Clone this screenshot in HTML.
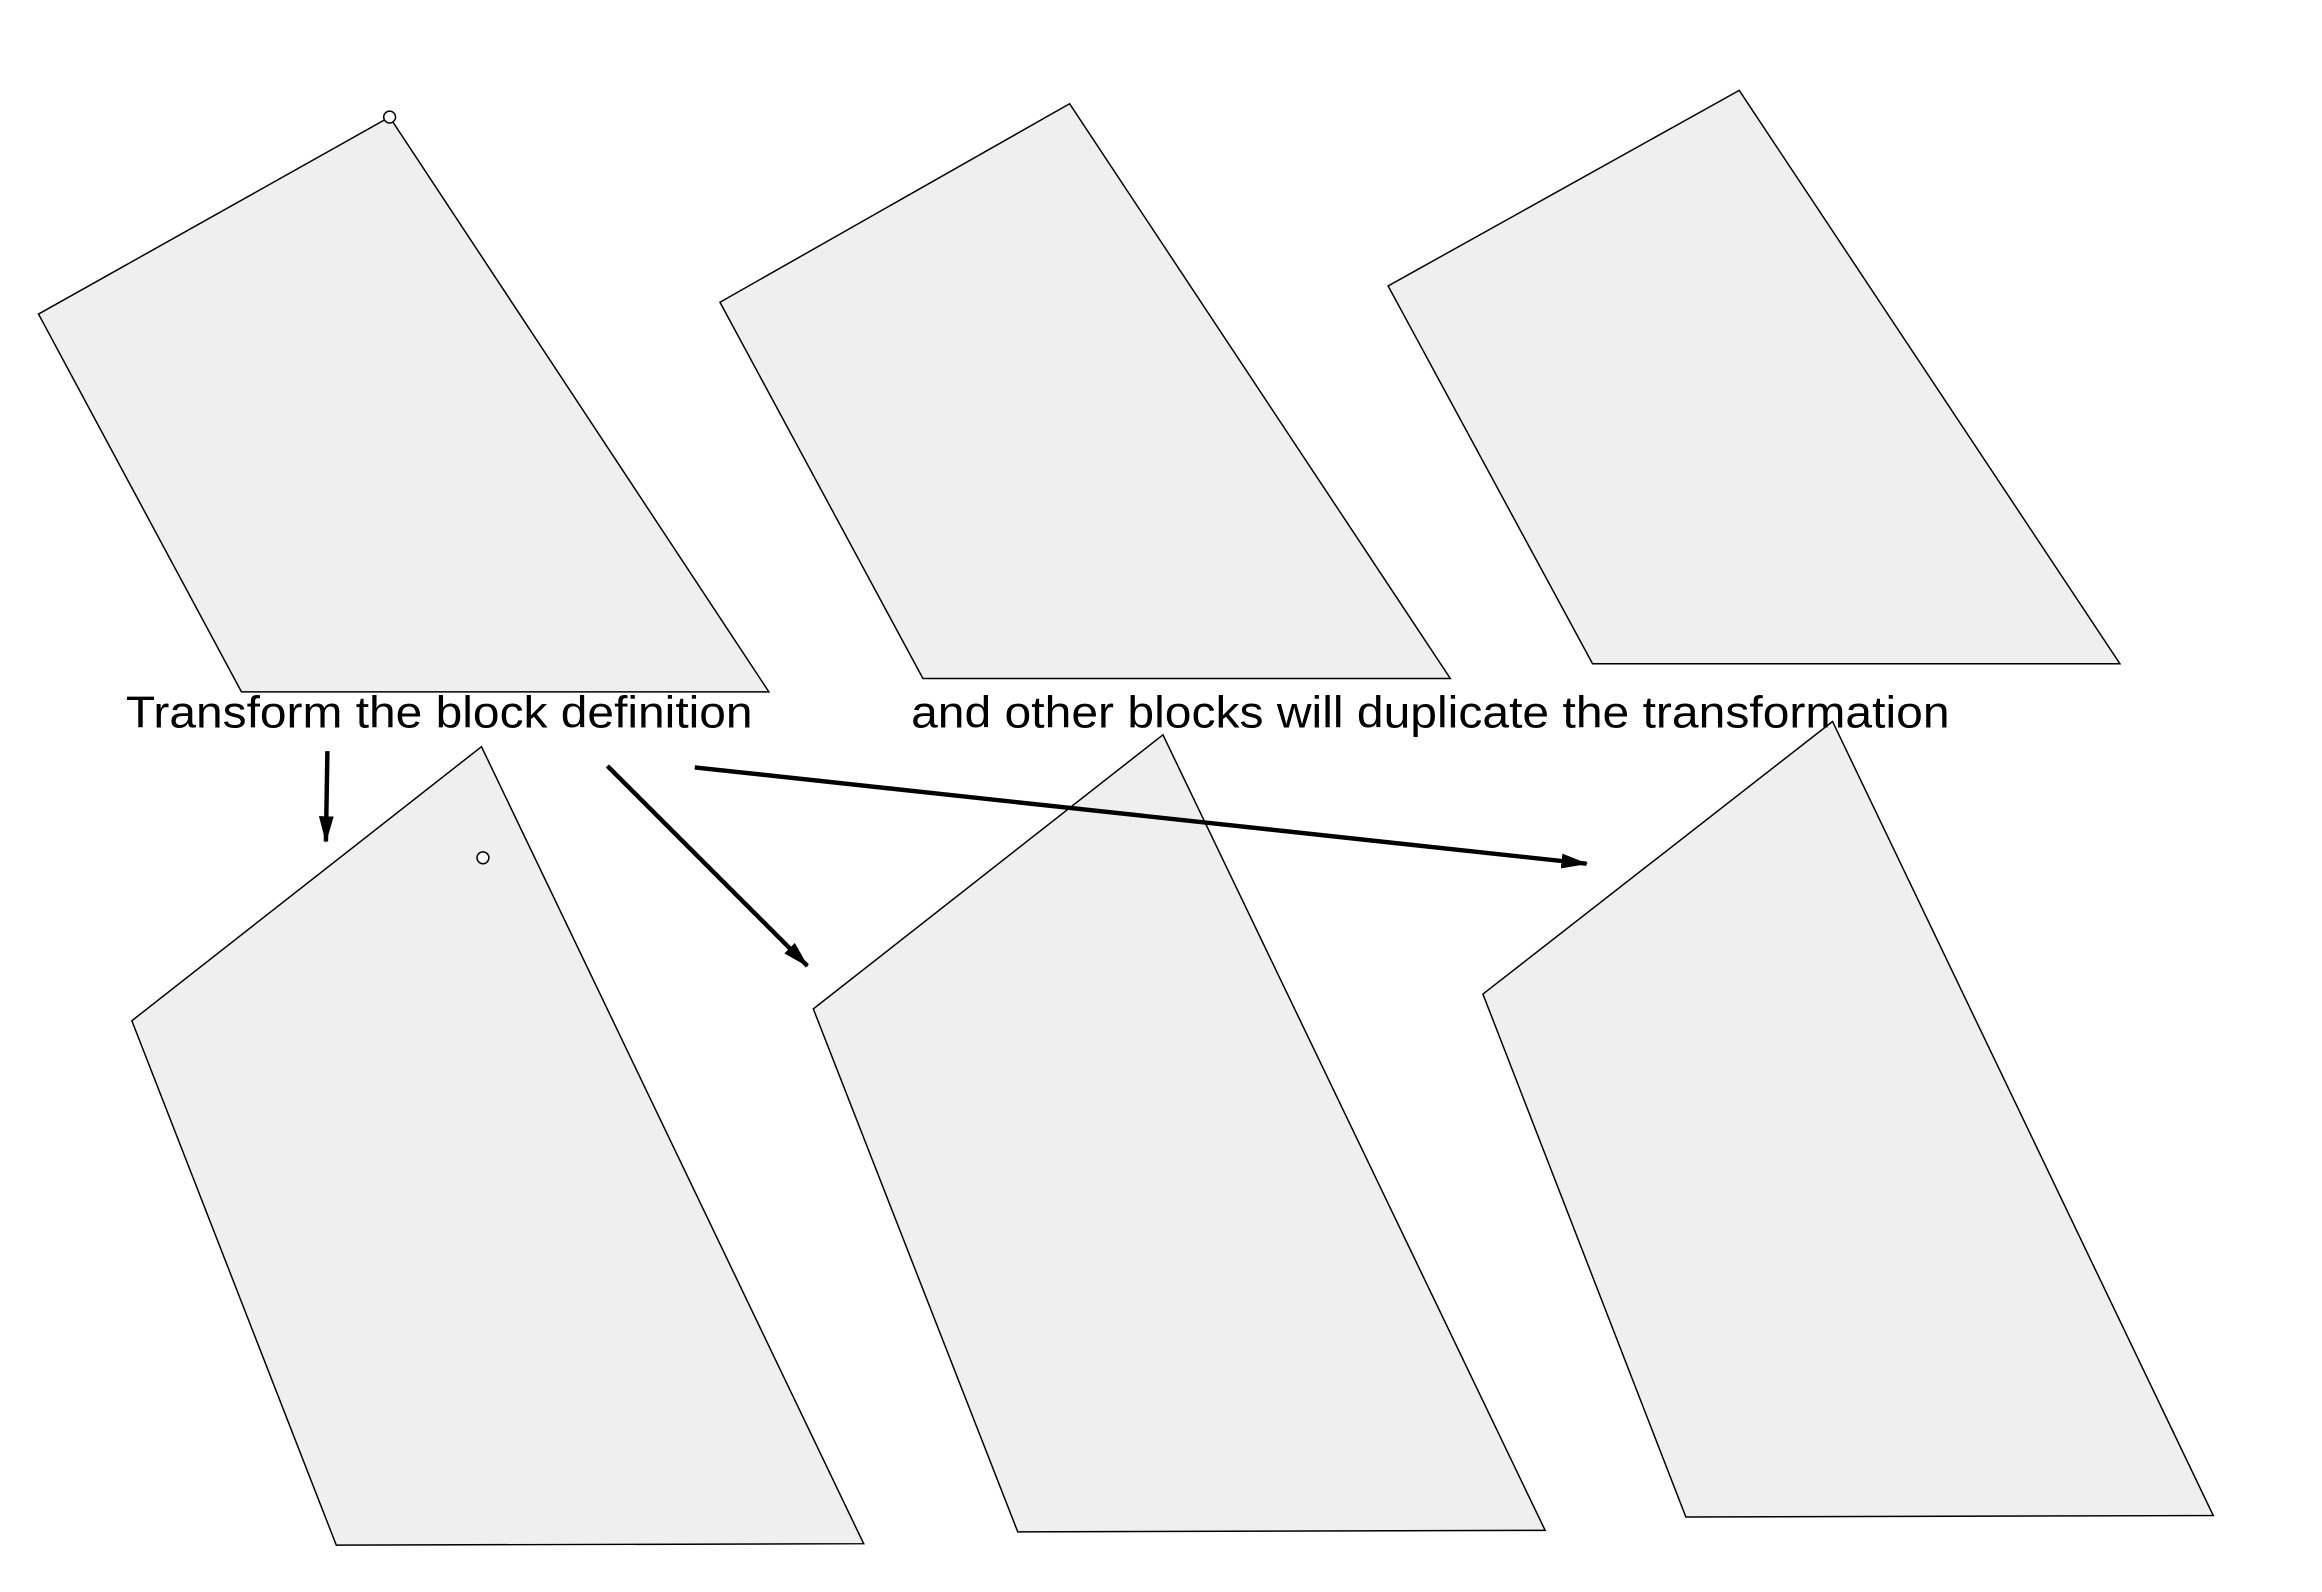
<!DOCTYPE html>
<html><head><meta charset="utf-8"><style>html,body{margin:0;padding:0;background:#fff;width:2322px;height:1592px;overflow:hidden}</style></head>
<body>
<svg width="2322" height="1592" viewBox="0 0 1567.4 1074.6" xmlns="http://www.w3.org/2000/svg">
<defs>
<marker id="b" markerWidth="18" markerHeight="10" refX="17" refY="5" orient="auto" markerUnits="userSpaceOnUse"><path d="M0,0 L18,5 L0,10 z" fill="#000"/></marker></defs>
<g fill="#efefef" stroke="#000" stroke-width="1">
<polygon points="263,79 26,212 163,467 519,467"/>
<polygon points="722,70 486,204 623,458 979,458"/>
<polygon points="1174,61 937,193 1075,448 1431,448"/>
<polygon points="325,504 89,689 227,1043 583,1042"/>
<polygon points="785,496 549,681 687,1034 1043,1033"/>
<polygon points="1237,487 1001,671 1138,1024 1494,1023"/>
</g>
<circle cx="263" cy="79" r="4" fill="#fff" stroke="#000"/>
<circle cx="326" cy="579" r="4" fill="#fff" stroke="#000"/>
<g font-family="Liberation Sans, sans-serif" font-size="30" fill="#000">
<text x="85" y="491" textLength="423" lengthAdjust="spacingAndGlyphs">Transform the block definition</text>
<text x="615" y="491" textLength="701" lengthAdjust="spacingAndGlyphs">and other blocks will duplicate the transformation</text>
</g>
<g stroke="#000" stroke-width="3" fill="none">
<line x1="221" y1="507" x2="220" y2="568" marker-end="url(#b)"/>
<line x1="410" y1="517" x2="545" y2="652" marker-end="url(#b)"/>
<line x1="469" y1="518" x2="1071" y2="583" marker-end="url(#b)"/>
</g>
</svg>
</body></html>
